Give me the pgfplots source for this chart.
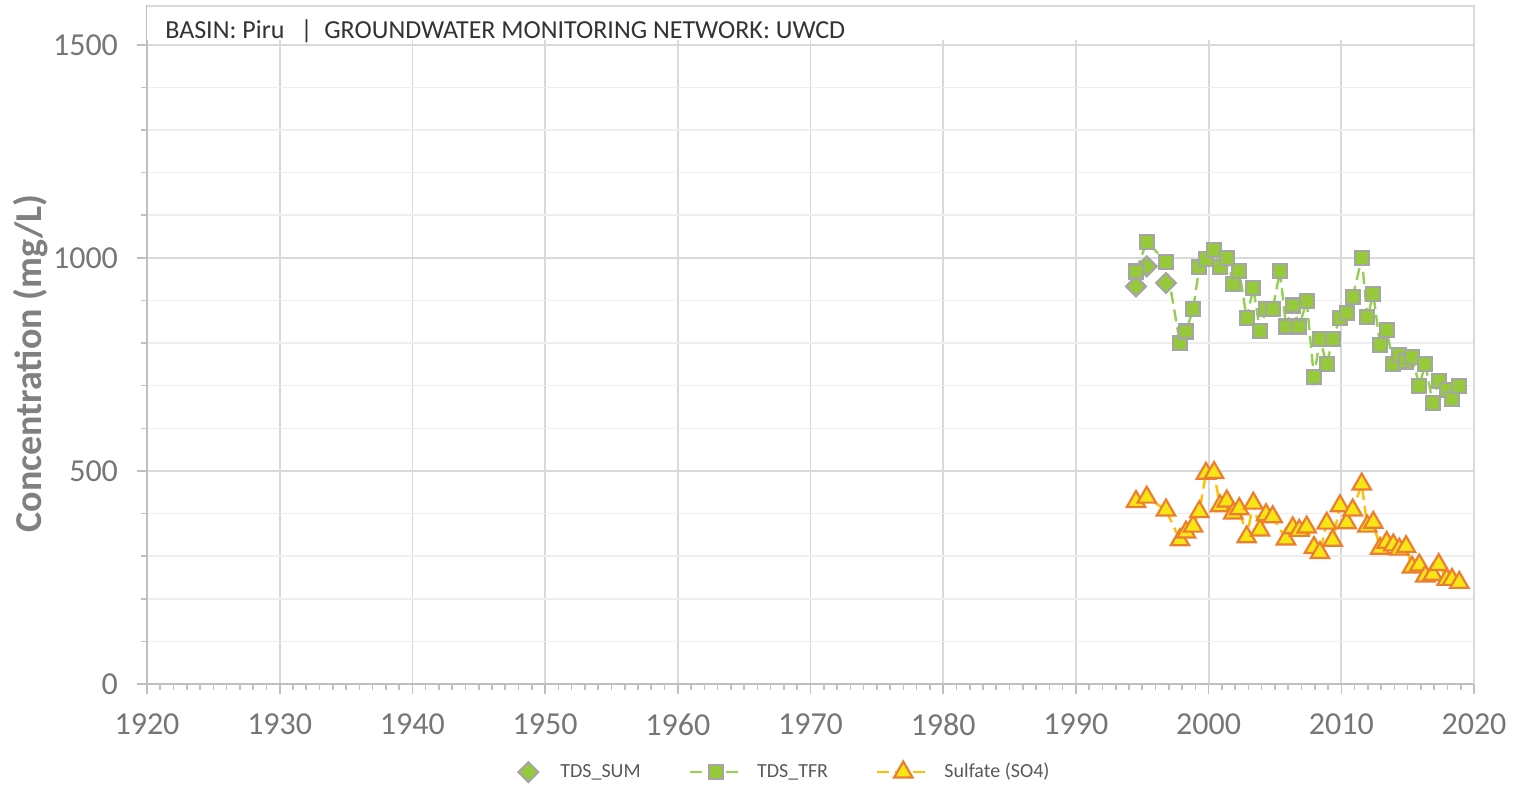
\documentclass[border=0pt]{standalone}
\usepackage{pgfplots}
\pgfplotsset{compat=1.18}
\usepackage{fontspec}
\setmainfont{Carlito}
\definecolor{tickgray}{RGB}{118,118,118}
\definecolor{labgray}{RGB}{128,128,128}
\definecolor{leggray}{RGB}{89,89,89}
\definecolor{gridmaj}{RGB}{217,217,217}
\definecolor{gridmin}{RGB}{238,238,238}
\definecolor{axgray}{RGB}{191,191,191}
\definecolor{tfrgreen}{RGB}{150,202,58}
\definecolor{tfrline}{RGB}{146,208,80}
\definecolor{mkborder}{RGB}{165,165,165}
\definecolor{sofill}{RGB}{245,230,20}
\definecolor{soedge}{RGB}{237,125,49}
\definecolor{soline}{RGB}{255,192,0}
\begin{document}
\begin{tikzpicture}
\path[use as bounding box] (0,0) rectangle (764pt,394.5pt);
\begin{axis}[
  at={(73.5pt,52.5pt)}, anchor=south west,
  scale only axis, width=663.5pt, height=339pt,
  xmin=1920, xmax=2020, ymin=0, ymax=1591,
  xtick={1920,1930,...,2020}, minor x tick num=9,
  ytick={0,500,1000,1500}, minor ytick={100,200,...,1500},
  xtick pos=bottom, ytick pos=left,
  tick align=outside,
  major tick length=5pt, minor tick length=3pt,
  every tick/.style={axgray, line width=0.8pt},
  xmajorgrids, ymajorgrids, yminorgrids,
  major grid style={gridmaj, line width=0.9pt},
  minor grid style={gridmin, line width=0.8pt},
  axis line style={axgray, line width=0.9pt},
  /pgf/number format/assume math mode=true,
  /pgf/number format/1000 sep={},
  ticklabel style={font=\fontsize{16}{19}\selectfont, text=tickgray},
  xticklabel style={yshift=-6.5pt},
  yticklabel style={xshift=-6pt},
  ylabel={\textbf{Concentration (mg/L)}},
  ylabel style={at={(axis description cs:-0.088,0.473)}, anchor=center, rotate=0, font=\fontsize{19}{22}\selectfont, text=labgray},
  legend style={at={(axis description cs:0.4815,-0.13)}, anchor=center, draw=none, fill=none,
    legend columns=3, font=\fontsize{10}{12}\selectfont, text=leggray,
    /tikz/every odd column/.append style={column sep=5pt},
    /tikz/every even column/.append style={column sep=22pt}},
  legend image code/.code={\draw[mark repeat=2,mark phase=2] plot coordinates {(0pt,0pt) (13pt,0pt) (26pt,0pt)};},
  clip=false,
]
\fill[white] (rel axis cs:0,0.950) rectangle (rel axis cs:1,1);
\draw[gridmaj, line width=0.9pt] (rel axis cs:0,1) -- (rel axis cs:1,1) -- (rel axis cs:1,0);
\node[anchor=west, font=\fontsize{13}{15}\selectfont, text=black!80] at (rel axis cs:0.0085,0.963) {BASIN: Piru \ \,|\ \ GROUNDWATER MONITORING NETWORK: UWCD};

\addplot[only marks, mark=square*, mark size=3.5pt,
  mark options={rotate=45, fill=tfrgreen, draw=mkborder, line width=1.1pt},
  legend image code/.code={\path[draw=none,fill=none] (0pt,0pt) -- (14pt,0pt); \draw plot coordinates {(5pt,0pt)};}]
  coordinates {(1994.53,933) (1995.34,980) (1996.79,941)};
\addlegendentry{TDS\_SUM}

\addplot[tfrline, line width=1.2pt, dash pattern=on 6pt off 3pt,
  mark=square*, mark size=3.5pt,
  mark options={solid, fill=tfrgreen, draw=mkborder, line width=1.1pt}]
  coordinates {
  (1994.53,968) (1995.34,1038) (1996.79,991) (1997.84,800) (1998.30,827)
  (1998.83,880) (1999.30,978) (1999.80,997) (2000.41,1019) (2000.86,978)
  (2001.37,999) (2001.86,939) (2002.31,970) (2002.87,858) (2003.37,929)
  (2003.87,829) (2004.33,880) (2004.83,880) (2005.38,969) (2005.83,839)
  (2006.34,888) (2006.83,839) (2007.39,899) (2007.94,720) (2008.39,810)
  (2008.90,750) (2009.35,810) (2009.90,858) (2010.41,870) (2010.86,909)
  (2011.54,999) (2011.96,861) (2012.41,915) (2012.92,796) (2013.42,831)
  (2013.92,750) (2014.37,772) (2014.88,757) (2015.33,768) (2015.88,700)
  (2016.33,751) (2016.89,659) (2017.34,711) (2017.94,690) (2018.34,669)
  (2018.89,700)};
\addlegendentry{TDS\_TFR}

\addplot[soline, line width=1.2pt, dash pattern=on 6pt off 3pt,
  mark=triangle*, mark size=5.3pt,
  mark options={solid, fill=sofill, draw=soedge, line width=1.1pt}]
  coordinates {
  (1994.53,428) (1995.34,438) (1996.79,408) (1997.84,338) (1998.30,356)
  (1998.83,370) (1999.30,404) (1999.80,494) (2000.41,496) (2000.86,418)
  (2001.37,429) (2001.86,401) (2002.31,411) (2002.87,345) (2003.37,424)
  (2003.87,361) (2004.33,397) (2004.83,392) (2005.83,340)
  (2006.34,366) (2006.83,360) (2007.39,368) (2007.94,320) (2008.39,308)
  (2008.90,377) (2009.35,337) (2009.90,418) (2010.41,378) (2010.86,408)
  (2011.54,469) (2011.96,370) (2012.41,379) (2012.92,318) (2013.42,332)
  (2013.92,326) (2014.37,316) (2014.88,322) (2015.33,274) (2015.88,279)
  (2016.33,253) (2016.89,257) (2017.34,280) (2017.94,245) (2018.34,245)
  (2018.89,238)};
\addlegendentry{Sulfate (SO4)}
\end{axis}
\end{tikzpicture}
\end{document}
